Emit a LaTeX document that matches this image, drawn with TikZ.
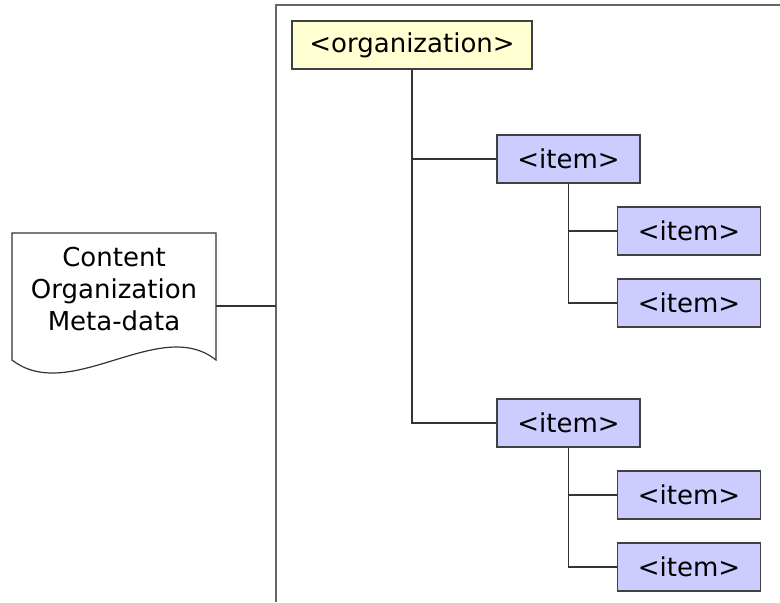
\documentclass[tikz,border=0pt]{standalone}
\usepackage{fontspec}
\setmainfont{DejaVu Sans}
\definecolor{orgfill}{HTML}{FFFFD2}
\definecolor{itemfill}{HTML}{CCCCFF}
\definecolor{framegray}{HTML}{666666}

\begin{document}
\begin{tikzpicture}[x=0.5pt,y=-0.5pt,font=\fontsize{13}{16}\selectfont,
		box/.style={draw=black!75,line width=0.6pt,inner sep=0pt,minimum height=24pt},
		orgbox/.style={box,fill=orgfill,minimum width=120pt},
		itembox/.style={box,fill=itemfill,minimum width=71.5pt},
		link/.style={draw=black!80,line width=0.55pt}]
		\useasboundingbox (0,0) rectangle (780,602);
		% frame
		\draw[framegray,line width=0.8pt] (780,5)--(276,5)--(276,602);
		% document shape
		\draw[black!80,line width=0.6pt,fill=white] (12,233)--(216,233)--(216,360)
			.. controls (160,315) and (70,405) .. (12,360)--cycle;
		\node[align=center] (doc) at (114,289) {Content\\Organization\\Meta-data};
		\coordinate (docR) at (216,306);
		\coordinate (frameL) at (276,306);
		\draw[link] (docR)--(frameL);
		% tree
		\node[orgbox] (org) at (412,45) {<organization>};
		\foreach \n/\y in {1/159,2/423}{
			\node[itembox] (it\n) at (568.5,\y) {<item>};
			\node[itembox] (it\n a) at (689,\y+72) {<item>};
			\node[itembox] (it\n b) at (689,\y+144) {<item>};
			\draw[link] (org.south) |- (it\n.west);
			\draw[link] (it\n.south) |- (it\n a.west);
			\draw[link] (it\n.south) |- (it\n b.west);
		}
	\end{tikzpicture}
\end{document}
